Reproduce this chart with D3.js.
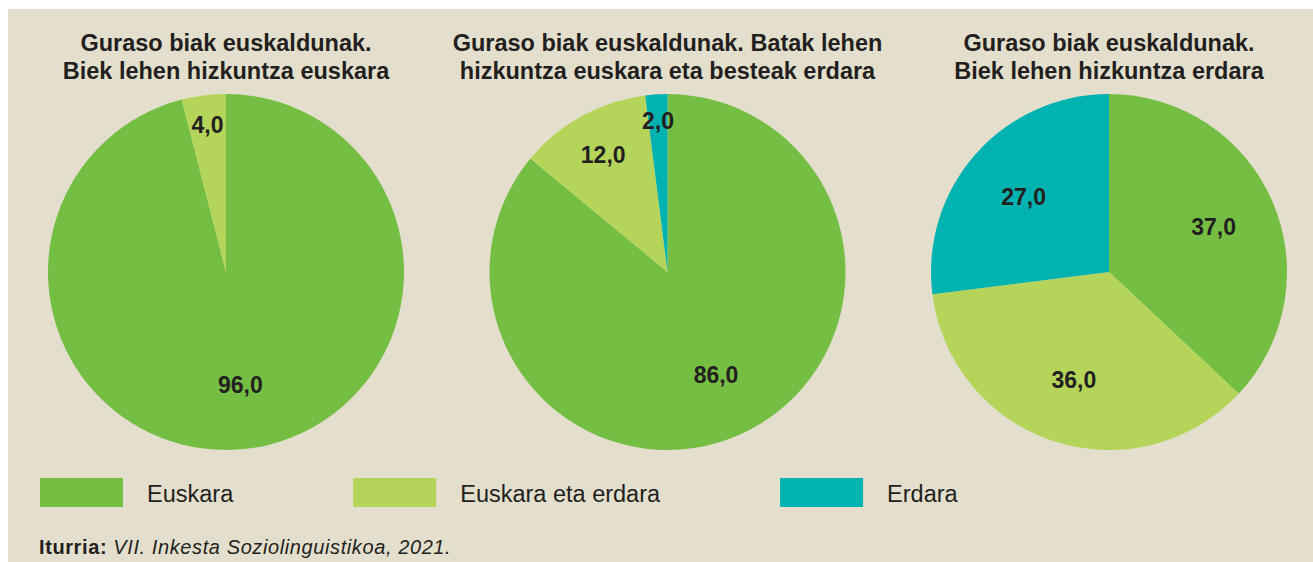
<!DOCTYPE html>
<html>
<head>
<meta charset="utf-8">
<script src="https://cdn.jsdelivr.net/npm/d3@7"></script>
<style>
body { margin: 0; background: #ffffff; }
text { font-family: Arial, "Liberation Sans", sans-serif; fill: #231f20; }
</style>
</head>
<body>
<svg id="svg" width="1313" height="562"></svg>
<script>
// data
var categories = ['Euskara', 'Euskara eta erdara', 'Erdara'];
var titles = [
    ['Guraso biak euskaldunak.', 'Biek lehen hizkuntza euskara'],
    ['Guraso biak euskaldunak. Batak lehen', 'hizkuntza euskara eta besteak erdara'],
    ['Guraso biak euskaldunak.', 'Biek lehen hizkuntza erdara']
];
var pie1 = [96, 4, 0];
var pie2 = [86, 12, 2];
var pie3 = [37, 36, 27];
var pies = [pie1, pie2, pie3];
var source = 'VII. Inkesta Soziolinguistikoa, 2021.';

var width = 1313;
var height = 562;
var radius = 178;
var centerY = 272;

var svg = d3.select('svg');

svg.append('rect')
    .attr('x', 8)
    .attr('y', 9)
    .attr('width', width - 8)
    .attr('height', height - 9)
    .attr('fill', '#e4dfcd');

var colorScale = d3.scaleOrdinal()
    .domain(categories)
    .range(['#74be43', '#b5d55a', '#00b2b0']);

var xScale = d3.scaleLinear()
    .domain([0, 2])
    .range([226, 1109]);

var pie = d3.pie().sort(null).value(function (d) { return d.value; });
var arc = d3.arc().innerRadius(0).outerRadius(radius);

pies.forEach(function (values, i) {
    var g = svg.append('g')
        .attr('transform', 'translate(' + xScale(i) + ',' + centerY + ')');

    var data = values.map(function (v, k) {
        return {cat: categories[k], value: v};
    });

    var arcs = pie(data).filter(function (d) { return d.value > 0; });

    g.selectAll('path')
        .data(arcs)
        .enter()
        .append('path')
        .attr('d', arc)
        .attr('fill', function (d) { return colorScale(d.data.cat); });

    g.selectAll('.label')
        .data(arcs)
        .enter()
        .append('text')
        .attr('class', 'label')
        .attr('transform', function (d) {
            // small slices get their label pushed out towards the rim
            var f = d.value < 15 ? 0.87 - d.value * 0.01 : 0.64;
            var a = (d.startAngle + d.endAngle) / 2;
            return 'translate(' + (Math.sin(a) * radius * f) + ',' + (-Math.cos(a) * radius * f) + ')';
        })
        .attr('text-anchor', 'middle')
        .attr('dy', '0.35em')
        .attr('font-size', '23px')
        .attr('font-weight', 'bold')
        .text(function (d) { return d3.format('.1f')(d.value).replace('.', ','); });

    svg.append('text')
        .attr('x', xScale(i))
        .attr('y', 51)
        .attr('text-anchor', 'middle')
        .attr('font-size', '23.5px')
        .attr('font-weight', 'bold')
        .text(titles[i][0]);

    svg.append('text')
        .attr('x', xScale(i))
        .attr('y', 79)
        .attr('text-anchor', 'middle')
        .attr('font-size', '23.5px')
        .attr('font-weight', 'bold')
        .text(titles[i][1]);
});

// legend
var lx = 40;
categories.forEach(function (c) {
    svg.append('rect')
        .attr('x', lx)
        .attr('y', 478)
        .attr('width', 83)
        .attr('height', 29)
        .attr('fill', colorScale(c));

    var t = svg.append('text')
        .attr('x', lx + 107)
        .attr('y', 502)
        .attr('font-size', '23.5px')
        .text(c);

    lx = lx + 107 + t.node().getComputedTextLength() + 120;
});

// source
var src = svg.append('text')
    .attr('x', 39)
    .attr('y', 554)
    .attr('font-size', '20px')
    .attr('letter-spacing', '0.6px');

src.append('tspan')
    .attr('font-weight', 'bold')
    .text('Iturria: ');

src.append('tspan')
    .attr('font-style', 'italic')
    .text(source);
</script>
</body>
</html>
